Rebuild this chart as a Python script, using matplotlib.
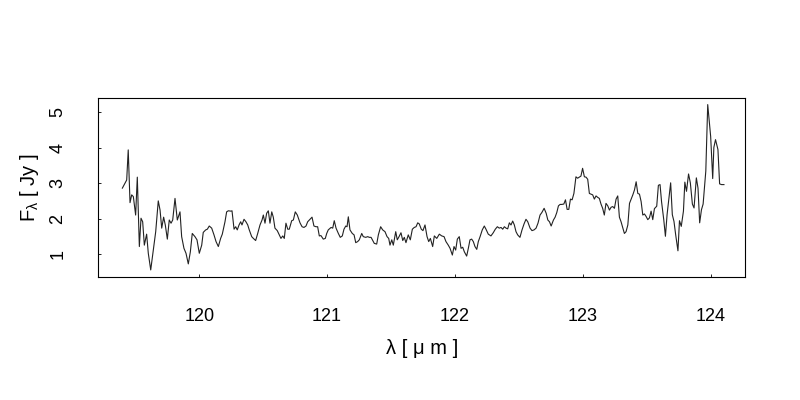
import matplotlib
matplotlib.use("Agg")
import matplotlib.pyplot as plt

plt.rcParams['font.family'] = ['Liberation Sans', 'DejaVu Sans']
plt.rcParams['mathtext.fontset'] = 'custom'
plt.rcParams['mathtext.rm'] = 'Liberation Sans'
plt.rcParams['mathtext.it'] = 'Liberation Sans:italic'

# wavelength (micron) and flux (Jy)
wave = [
    119.398, 119.432, 119.444, 119.458, 119.471, 119.484, 119.502, 119.515, 119.531, 119.544,
    119.557, 119.570, 119.588, 119.601, 119.620, 119.640, 119.659, 119.679, 119.693, 119.706,
    119.721, 119.734, 119.750, 119.765, 119.779, 119.792, 119.810, 119.828, 119.849, 119.862,
    119.880, 119.896, 119.914, 119.930, 119.945, 119.966, 119.982, 120.000, 120.019, 120.031,
    120.050, 120.063, 120.078, 120.097, 120.115, 120.131, 120.149, 120.167, 120.180,
    120.201, 120.214, 120.227, 120.248, 120.256, 120.272, 120.285, 120.297, 120.311, 120.324,
    120.334, 120.350, 120.365, 120.379, 120.391, 120.410, 120.423, 120.441, 120.457, 120.475,
    120.491, 120.501, 120.514, 120.527, 120.540, 120.553, 120.567, 120.579, 120.592, 120.610,
    120.626, 120.639, 120.653, 120.665, 120.678, 120.692, 120.704, 120.723, 120.736, 120.751,
    120.767, 120.788, 120.804, 120.819, 120.835, 120.848, 120.866, 120.882, 120.897, 120.913,
    120.926, 120.939, 120.952, 120.970, 120.986,
    120.997, 121.009, 121.031, 121.044, 121.056, 121.070, 121.088, 121.103, 121.119, 121.132,
    121.146, 121.156, 121.166, 121.179, 121.197, 121.211, 121.224, 121.239, 121.252, 121.271,
    121.283, 121.302, 121.318, 121.330, 121.344, 121.357, 121.369, 121.388, 121.401, 121.419,
    121.435, 121.453, 121.469, 121.482, 121.492, 121.506, 121.518, 121.537, 121.549, 121.563,
    121.578, 121.592, 121.604, 121.617, 121.635, 121.651, 121.667, 121.682, 121.696, 121.709,
    121.721, 121.737, 121.750, 121.766, 121.782, 121.795, 121.808,
    121.826, 121.839, 121.858, 121.878, 121.897, 121.915, 121.930, 121.948, 121.962, 121.980,
    121.993, 122.006, 122.019, 122.034, 122.048, 122.061, 122.074, 122.092, 122.105, 122.118,
    122.131, 122.144, 122.157, 122.171, 122.183, 122.197, 122.214, 122.230, 122.243, 122.261,
    122.282, 122.300, 122.316, 122.332, 122.347, 122.361, 122.374, 122.387, 122.400, 122.413,
    122.426, 122.439, 122.452, 122.465, 122.478, 122.491, 122.509, 122.525, 122.541, 122.556,
    122.570, 122.588, 122.603, 122.619, 122.635, 122.650, 122.666,
    122.680, 122.698, 122.714, 122.727, 122.740, 122.753, 122.771, 122.784, 122.797, 122.810,
    122.823, 122.836, 122.852, 122.865, 122.878, 122.891, 122.904, 122.917, 122.931, 122.947,
    122.960, 122.973, 122.986, 122.999, 123.013, 123.026, 123.039, 123.052, 123.065, 123.078,
    123.091, 123.104, 123.117, 123.130, 123.143, 123.156, 123.169, 123.182, 123.196, 123.209,
    123.222, 123.235, 123.248, 123.261, 123.274, 123.287, 123.300, 123.313, 123.326, 123.339,
    123.353, 123.366, 123.379, 123.392, 123.405, 123.418, 123.431, 123.444,
    123.457, 123.470, 123.483, 123.496, 123.509, 123.522, 123.535, 123.548, 123.561, 123.579,
    123.592, 123.605, 123.617, 123.634, 123.647, 123.660, 123.675, 123.688, 123.701, 123.714,
    123.727, 123.745, 123.757, 123.771, 123.788, 123.799, 123.812, 123.828, 123.842, 123.858,
    123.871, 123.889, 123.902, 123.915, 123.929, 123.942, 123.963, 123.978, 124.001, 124.017,
    124.026, 124.039, 124.058, 124.071, 124.086, 124.105,
]
flux = [
    2.86, 3.09, 3.94, 2.45, 2.67, 2.62, 2.10, 3.17, 1.21, 2.01,
    1.91, 1.25, 1.56, 1.02, 0.55, 1.11, 1.63, 2.50, 2.24, 1.73,
    2.04, 1.82, 1.42, 1.96, 1.87, 1.96, 2.57, 1.96, 2.19, 1.49,
    1.16, 1.02, 0.72, 1.06, 1.58, 1.49, 1.40, 1.02, 1.25, 1.61,
    1.68, 1.70, 1.79, 1.73, 1.54, 1.35, 1.21, 1.44, 1.56,
    1.91, 2.19, 2.22, 2.21, 2.22, 1.70, 1.77, 1.68, 1.82, 1.91,
    1.82, 1.98, 1.91, 1.82, 1.68, 1.49, 1.44, 1.38, 1.58, 1.82,
    1.96, 2.10, 1.87, 2.15, 2.22, 1.87, 2.19, 2.04, 1.73, 1.66,
    1.54, 1.44, 1.51, 1.44, 1.87, 1.70, 1.70, 1.94, 1.96, 2.19,
    2.10, 1.88, 1.77, 1.75, 1.79, 1.91, 1.98, 2.04, 1.79, 1.77,
    1.77, 1.51, 1.52, 1.42, 1.44,
    1.58, 1.68, 1.75, 1.73, 1.94, 1.73, 1.58, 1.47, 1.51, 1.70,
    1.79, 1.77, 2.05, 1.68, 1.58, 1.54, 1.32, 1.35, 1.40, 1.58,
    1.49, 1.47, 1.49, 1.47, 1.47, 1.38, 1.30, 1.28, 1.54, 1.77,
    1.68, 1.63, 1.49, 1.44, 1.25, 1.40, 1.25, 1.63, 1.40, 1.49,
    1.60, 1.38, 1.47, 1.32, 1.54, 1.40, 1.70, 1.75, 1.77, 1.88,
    1.85, 1.70, 1.66, 1.82, 1.49, 1.35, 1.44,
    1.21, 1.51, 1.44, 1.56, 1.51, 1.49, 1.35, 1.25, 1.16, 0.97,
    1.21, 1.11, 1.42, 1.49, 1.16, 1.19, 1.06, 0.94, 1.16, 1.40,
    1.42, 1.35, 1.21, 1.13, 1.35, 1.49, 1.68, 1.79, 1.70, 1.56,
    1.51, 1.60, 1.70, 1.77, 1.73, 1.75, 1.70, 1.77, 1.73, 1.71,
    1.88, 1.82, 1.93, 1.82, 1.63, 1.54, 1.47, 1.68, 1.85, 1.98,
    1.91, 1.73, 1.66, 1.68, 1.73, 1.87, 2.10,
    2.17, 2.29, 2.15, 1.96, 1.91, 1.79, 1.96, 2.04, 2.17, 2.36,
    2.40, 2.40, 2.41, 2.53, 2.26, 2.26, 2.55, 2.53, 2.71, 3.18,
    3.14, 3.17, 3.20, 3.42, 3.18, 3.17, 3.11, 2.71, 2.69, 2.67,
    2.55, 2.64, 2.60, 2.57, 2.41, 2.29, 2.10, 2.43, 2.36, 2.24,
    2.32, 2.34, 2.29, 2.55, 2.64, 2.04, 1.91, 1.75, 1.58, 1.63,
    1.82, 2.43, 2.55, 2.67, 2.81, 3.04, 2.71, 2.69, 2.48, 2.10,
    2.13, 2.06, 1.97, 2.02, 2.21, 1.97, 2.28, 2.35, 2.94, 2.96,
    2.47, 1.97, 1.50, 2.11, 2.58, 3.01, 2.11, 1.92, 1.55, 1.09,
    1.94, 1.78, 2.21, 3.03, 2.77, 3.26, 3.01, 2.41, 2.30, 3.15,
    2.86, 1.88, 2.25, 2.41, 3.34, 5.22, 4.32, 3.13, 4.01, 4.23,
    3.95, 2.98, 2.96, 2.96,
]
xticks = [120, 121, 122, 123, 124]
yticks = [1, 2, 3, 4, 5]

n = min(len(wave), len(flux))
wave = wave[:n]
flux = flux[:n]

fig = plt.figure(figsize=(8, 4), dpi=100)
ax = fig.add_axes([0.1229, 0.3068, 0.8084, 0.7543 - 0.3068])
ax.plot(wave, flux, color='#222222', lw=0.8)

ax.set_xlim(119.210, 124.270)
ax.set_ylim(0.342, 5.398)
ax.set_xticks(xticks)
ax.set_yticks(yticks)
ax.tick_params(direction='in', length=2.5, width=0.6, labelsize=13, pad=22)
ax.tick_params(axis='y', labelrotation=90, pad=23)
for lab in ax.get_yticklabels():
    lab.set_va('center')
for sp in ax.spines.values():
    sp.set_linewidth(0.8)

ax.set_xlabel('λ [ μ m ]', fontsize=14.5, labelpad=10)
ax.set_ylabel(r'F$_{\mathrm{\lambda}}$ [ Jy ]', fontsize=14.5, labelpad=6)

fig.savefig('out.png', dpi=100)
